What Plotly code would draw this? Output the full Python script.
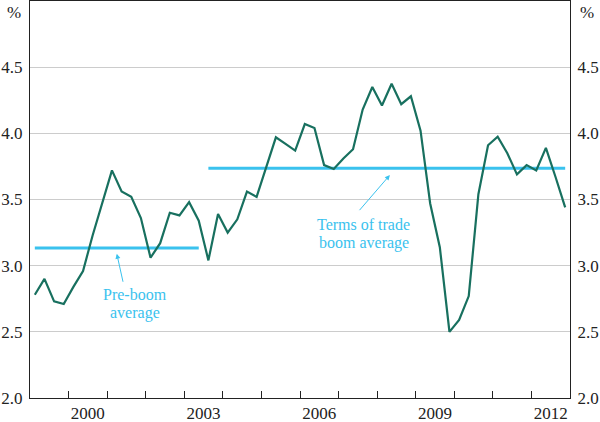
import plotly.graph_objects as go

# ---- data ----
years = list(range(1999, 2013))
quarters = [f"{y}-Q{q}" for y in years for q in (1, 2, 3, 4)]
rate = [2.78, 2.90, 2.73, 2.71, 2.84, 2.96, 3.23, 3.48,
        3.72, 3.56, 3.52, 3.36, 3.06, 3.17, 3.40, 3.38,
        3.48, 3.34, 3.04, 3.39, 3.25, 3.35, 3.56, 3.52,
        3.75, 3.97, 3.92, 3.87, 4.07, 4.04, 3.76, 3.73,
        3.81, 3.88, 4.18, 4.35, 4.21, 4.375, 4.22, 4.28,
        4.02, 3.47, 3.14, 2.50, 2.59, 2.77, 3.54, 3.91,
        3.975, 3.85, 3.69, 3.76, 3.72, 3.89, 3.67, 3.44]
pre_boom_avg = 3.134
pre_boom_period = ["1999-Q1", "2003-Q2"]
boom_avg = 3.736
boom_period = ["2003-Q3", "2012-Q4"]
x_tick_labels = ["2000", "2003", "2006", "2009", "2012"]
y_ticks = [2.0, 2.5, 3.0, 3.5, 4.0, 4.5]


def qpos(label):
    y, q = label.split("-Q")
    return int(y) + (int(q) - 0.5) / 4


xpos = [qpos(q) for q in quarters]

GREEN = "#18705f"
CYAN = "#3ac2ee"
TXT = "#222222"
FONT = "Liberation Serif, Times New Roman, serif"

fig = go.Figure()
fig.add_trace(go.Scatter(x=[qpos(p) for p in pre_boom_period], y=[pre_boom_avg] * 2,
                         mode="lines", line=dict(color=CYAN, width=3), hoverinfo="skip"))
fig.add_trace(go.Scatter(x=[qpos(p) for p in boom_period], y=[boom_avg] * 2,
                         mode="lines", line=dict(color=CYAN, width=3), hoverinfo="skip"))
fig.add_trace(go.Scatter(x=xpos, y=rate, mode="lines",
                         line=dict(color=GREEN, width=2.2)))
fig.add_trace(go.Scatter(x=[xpos[0]], y=[2.0], yaxis="y2", mode="markers",
                         marker=dict(opacity=0), hoverinfo="skip"))

tickfont = dict(family=FONT, size=17, color=TXT)

fig.update_layout(
    width=600, height=422,
    margin=dict(l=30, r=30, t=1, b=24, autoexpand=False),
    paper_bgcolor="white", plot_bgcolor="white",
    showlegend=False,
    font=dict(family=FONT, color=TXT),
    xaxis=dict(
        range=[1999, 2013], automargin=False,
        tickmode="array",
        tickvals=[int(t) + 0.5 for t in x_tick_labels],
        ticktext=x_tick_labels,
        ticks="", ticklabelstandoff=0,
        tickfont=tickfont,
        showgrid=False, zeroline=False,
        showline=True, linecolor=TXT, linewidth=1, mirror=True,
        minor=dict(tickmode="array", tickvals=list(range(2000, 2013)),
                   ticks="inside", ticklen=7, tickwidth=1, tickcolor=TXT,
                   showgrid=False),
    ),
    yaxis=dict(
        range=[2, 5], automargin=False,
        tickmode="array",
        tickvals=y_ticks,
        ticktext=[f"{v:.1f}" for v in y_ticks],
        ticks="", tickfont=tickfont, ticklabelstandoff=3,
        showgrid=True, gridcolor="#cccccc", gridwidth=1,
        zeroline=False,
        showline=True, linecolor=TXT, linewidth=1,
    ),
    yaxis2=dict(
        range=[2, 5], overlaying="y", side="right", automargin=False,
        tickmode="array",
        tickvals=y_ticks,
        ticktext=[f"{v:.1f}" for v in y_ticks],
        ticks="", tickfont=tickfont, ticklabelstandoff=3,
        showgrid=False, zeroline=False,
        showline=True, linecolor=TXT, linewidth=1,
    ),
)

ann_font = dict(family=FONT, size=16, color=CYAN)
annotations = [
    dict(text="%", xref="paper", yref="paper", x=-0.029, y=0.97, showarrow=False,
         font=tickfont, xanchor="center", yanchor="middle"),
    dict(text="%", xref="paper", yref="paper", x=1.031, y=0.97, showarrow=False,
         font=tickfont, xanchor="center", yanchor="middle"),
    dict(text="Pre-boom", x=2001.72, y=2.782, showarrow=False, font=ann_font,
         xanchor="center", yanchor="middle"),
    dict(text="average", x=2001.72, y=2.646, showarrow=False, font=ann_font,
         xanchor="center", yanchor="middle"),
    dict(text="Terms of trade", x=2007.65, y=3.311, showarrow=False, font=ann_font,
         xanchor="center", yanchor="middle"),
    dict(text="boom average", x=2007.65, y=3.175, showarrow=False, font=ann_font,
         xanchor="center", yanchor="middle"),
    dict(text="", x=2001.25, y=3.09, ax=2001.42, ay=2.867, axref="x", ayref="y",
         showarrow=True, arrowhead=2, arrowsize=1, arrowwidth=1, arrowcolor=CYAN),
    dict(text="", x=2008.33, y=3.685, ax=2007.51, ay=3.408, axref="x", ayref="y",
         showarrow=True, arrowhead=2, arrowsize=1, arrowwidth=1, arrowcolor=CYAN),
]
fig.update_layout(annotations=annotations)

fig.write_html("out.html",
               config={"displayModeBar": False},
               post_script="document.body.style.margin='0px';"
                           "document.body.style.overflow='hidden';")
